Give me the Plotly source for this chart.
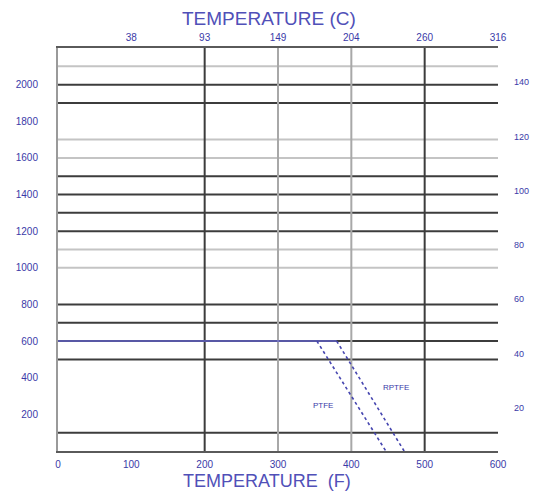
import plotly.graph_objects as go

# ---- data ----
temp_f_ticks = [0, 100, 200, 300, 400, 500, 600]
temp_c_tick_pos_f = [100, 200, 300, 400, 500, 600]
temp_c_labels = ["38", "93", "149", "204", "260", "316"]
psi_ticks = [200, 400, 600, 800, 1000, 1200, 1400, 1600, 1800, 2000]
right_ticks = [20, 40, 60, 80, 100, 120, 140]

# horizontal reference lines (psi)
dark_hlines = [100, 500, 600, 700, 800, 1200, 1300, 1400, 1500, 1900, 2000]
light_hlines = [1000, 1100, 1600, 1700, 2100]
# vertical reference lines (deg F)
dark_vlines = [200, 500]
light_vlines = [300, 400]

# rating curves
limit_t = [0, 380]
limit_p = [600, 600]
ptfe_t = [353, 447]
ptfe_p = [600, 0]
rptfe_t = [380, 472]
rptfe_p = [600, 0]

BLUE = "#3a3aa8"
TITLE_BLUE = "#5050b8"
FONT = "Liberation Sans"

fig = go.Figure()

fig.add_trace(go.Scatter(x=limit_t, y=limit_p, mode="lines",
                         line=dict(color="#6262c8", width=1.5), showlegend=False))
fig.add_trace(go.Scatter(x=ptfe_t, y=ptfe_p, mode="lines",
                         line=dict(color="#4646b0", width=1.6, dash="dot"), showlegend=False))
fig.add_trace(go.Scatter(x=rptfe_t, y=rptfe_p, mode="lines",
                         line=dict(color="#4646b0", width=1.6, dash="dot"), showlegend=False))
# invisible traces to activate secondary axes
fig.add_trace(go.Scatter(x=[None], y=[None], xaxis="x2", yaxis="y", showlegend=False))
fig.add_trace(go.Scatter(x=[None], y=[None], xaxis="x", yaxis="y2", showlegend=False))

shapes = []
for v in light_hlines:
    shapes.append(dict(type="line", xref="x", yref="y", x0=0, x1=600, y0=v, y1=v,
                       line=dict(color="#c4c4c4", width=2), layer="below"))
for v in dark_hlines:
    shapes.append(dict(type="line", xref="x", yref="y", x0=0, x1=600, y0=v, y1=v,
                       line=dict(color="#3c3c3c", width=2), layer="below"))
for v in light_vlines:
    shapes.append(dict(type="line", xref="x", yref="y", x0=v, x1=v, y0=0, y1=2200,
                       line=dict(color="#a8a8a8", width=2), layer="below"))
for v in dark_vlines:
    shapes.append(dict(type="line", xref="x", yref="y", x0=v, x1=v, y0=0, y1=2200,
                       line=dict(color="#3c3c3c", width=2), layer="below"))

tick_font = dict(family=FONT, size=10, color=BLUE)

fig.update_layout(
    width=530, height=485,
    margin=dict(l=50, r=40, t=40, b=42, autoexpand=False),
    paper_bgcolor="white", plot_bgcolor="white",
    shapes=shapes,
    xaxis=dict(range=[0, 600], tickvals=temp_f_ticks, ticktext=[str(v) for v in temp_f_ticks],
               showgrid=False, zeroline=False, showline=True, linecolor="#5a5a5a", linewidth=2,
               mirror=True, ticks="", tickfont=tick_font, ticklabelstandoff=3, automargin=False),
    xaxis2=dict(range=[0, 600], overlaying="x", side="top", tickvals=temp_c_tick_pos_f,
                ticktext=temp_c_labels, showgrid=False, zeroline=False, showline=False,
                ticks="", tickfont=tick_font, ticklabelstandoff=4, automargin=False),
    yaxis=dict(range=[0, 2200], tickvals=psi_ticks, ticktext=[str(v) for v in psi_ticks],
               showgrid=False, zeroline=False, showline=True, linecolor="#9a9a9a", linewidth=2,
               ticks="", tickfont=tick_font, ticklabelstandoff=16, automargin=False),
    yaxis2=dict(range=[4.1, 152.6], overlaying="y", side="right", tickvals=right_ticks,
                ticktext=[str(v) for v in right_ticks], showgrid=False, zeroline=False,
                showline=False, ticks="", tickfont=dict(family=FONT, size=9, color=BLUE),
                ticklabelstandoff=15, automargin=False),
    annotations=[
        dict(text="TEMPERATURE (C)", xref="paper", yref="paper", x=0.48, y=1.074,
             yanchor="middle", showarrow=False,
             font=dict(family=FONT, size=19, color=TITLE_BLUE)),
        dict(text="TEMPERATURE  (F)", xref="paper", yref="paper", x=0.475, y=-0.074,
             yanchor="middle", showarrow=False,
             font=dict(family=FONT, size=18, color=TITLE_BLUE)),
        dict(text="PTFE", xref="x", yref="y", x=361, y=246, showarrow=False,
             font=dict(family=FONT, size=8, color=BLUE)),
        dict(text="RPTFE", xref="x", yref="y", x=461, y=344, showarrow=False,
             font=dict(family=FONT, size=8, color=BLUE)),
    ],
)

fig.write_html("out.html")
